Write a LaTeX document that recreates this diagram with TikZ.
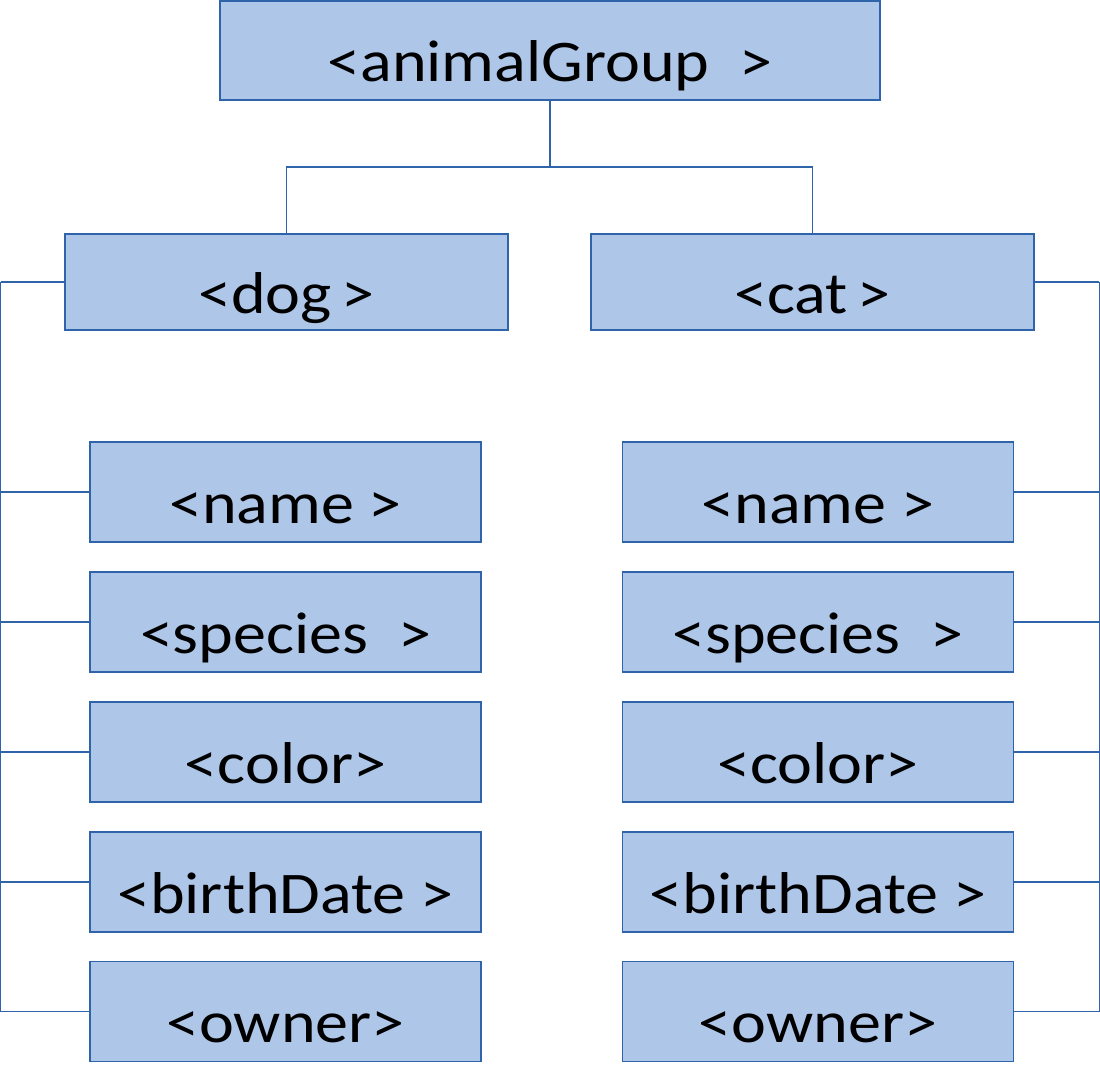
\documentclass[tikz,border=0pt]{standalone}
\usepackage{fontspec}
\setmainfont{Carlito}[FakeStretch=1.12]
\definecolor{boxfill}{RGB}{174,198,232}
\definecolor{boxline}{RGB}{47,99,170}
\begin{document}
\begin{tikzpicture}[x=1pt,y=-1pt,
  elem/.style={draw=boxline,fill=boxfill,line width=1.4pt,inner sep=0pt,
    text height=62pt,text depth=0pt,font=\fontsize{59}{62}\selectfont},
  big/.style={elem,minimum width=660pt,minimum height=99pt},
  mid/.style={elem,minimum width=443pt,minimum height=96pt},
  leaf/.style={elem,minimum width=391pt,minimum height=100pt},
  conn/.style={draw=boxline,line width=1.4pt}]
\useasboundingbox (0,0) rectangle (1100,1077);
\node[big] (top) at (550,50.5) {<animalGroup\ \ >};
\node[mid] (dog) at (286.5,282) {<dog\,>};
\node[mid] (cat) at (812.5,282) {<cat\,>};
\node[leaf] (dname) at (285.5,492) {<name >};
\node[leaf] (dspecies) at (285.5,622) {<species\ \ >};
\node[leaf] (dcolor) at (285.5,752) {<color>};
\node[leaf] (dbirth) at (285.5,882) {<birthDate >};
\node[leaf] (downer) at (285.5,1011.5) {<owner>};
\node[leaf] (cname) at (818,492) {<name >};
\node[leaf] (cspecies) at (818,622) {<species\ \ >};
\node[leaf] (ccolor) at (818,752) {<color>};
\node[leaf] (cbirth) at (818,882) {<birthDate >};
\node[leaf] (cowner) at (818,1011.5) {<owner>};
\coordinate (bus) at (550,167);
\coordinate (lb) at (0.7,282);
\coordinate (rb) at (1099.3,282);
\draw[conn] (top.south) -- (bus) -| (dog.north);
\draw[conn] (bus) -| (cat.north);
\draw[conn] (dog.west) -- (lb);
\draw[conn] (cat.east) -- (rb);
\foreach \n in {dname,dspecies,dcolor,dbirth,downer} \draw[conn] (lb) |- (\n.west);
\foreach \n in {cname,cspecies,ccolor,cbirth,cowner} \draw[conn] (rb) |- (\n.east);
\end{tikzpicture}
\end{document}
